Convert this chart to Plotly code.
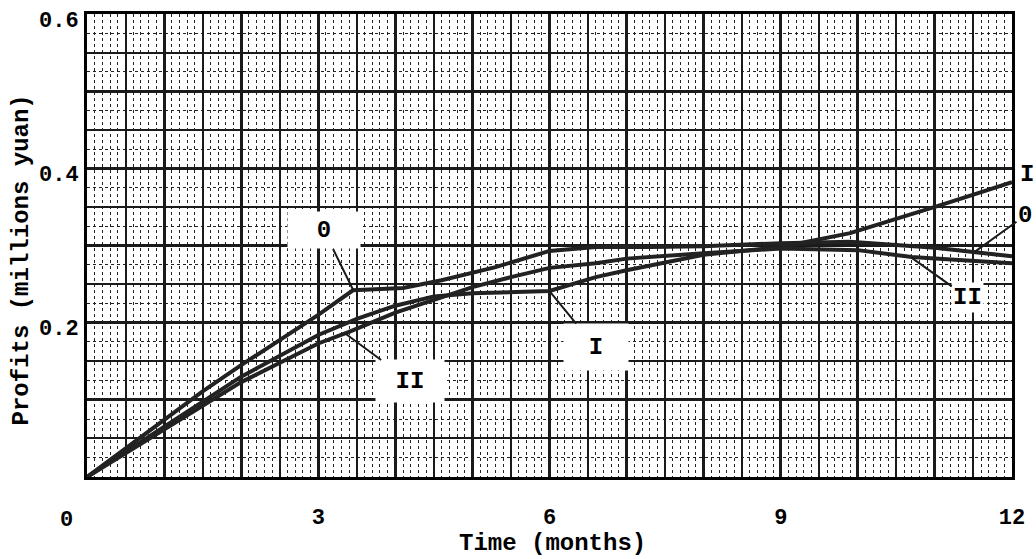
import plotly.graph_objects as go

# ---- data ----
months_O = [0, 0.5, 1, 1.5, 2, 2.5, 3, 3.45, 4.1, 4.6, 5.3, 6, 6.6, 7.3, 8, 9, 9.9, 11, 11.5, 12]
profit_O = [0, 0.037, 0.075, 0.111, 0.145, 0.178, 0.21, 0.242, 0.245, 0.255, 0.272, 0.293, 0.298, 0.298, 0.299, 0.303, 0.305, 0.297, 0.292, 0.286]

months_I = [0, 1, 2, 3, 3.5, 4, 4.5, 5, 5.5, 6, 6.6, 7, 8, 9, 9.9, 10.5, 11, 11.5, 12]
profit_I = [0, 0.065, 0.13, 0.184, 0.205, 0.222, 0.234, 0.238, 0.239, 0.241, 0.259, 0.268, 0.288, 0.298, 0.316, 0.334, 0.35, 0.366, 0.382]

months_II = [0, 1, 2, 3, 3.4, 4, 4.5, 5, 5.5, 6, 6.6, 7, 8, 9, 10, 10.7, 11, 12]
profit_II = [0, 0.062, 0.123, 0.173, 0.188, 0.213, 0.23, 0.246, 0.259, 0.271, 0.277, 0.283, 0.29, 0.296, 0.294, 0.285, 0.283, 0.277]

x_tickvals = list(range(0, 13))
x_ticktext = ["" if (m % 3 or m == 0) else str(m) for m in x_tickvals]
y_tickvals = [0, 0.1, 0.2, 0.3, 0.4, 0.5, 0.6]
y_ticktext = ["", "", "0.2", "", "0.4", "", "0.6"]

FONT = "Liberation Mono"
INK = "#1a1a1a"

fig = go.Figure()
for xs, ys, name in [(months_O, profit_O, "0"), (months_I, profit_I, "I"), (months_II, profit_II, "II")]:
    fig.add_trace(go.Scatter(x=xs, y=ys, mode="lines", name=name,
                             line=dict(color="#222", width=4), showlegend=False))
# dummy trace on the overlay axes (medium-weight grid)
fig.add_trace(go.Scatter(x=[None], y=[None], xaxis="x2", yaxis="y2", showlegend=False, hoverinfo="skip"))

tickfont = dict(family=FONT, size=22, color="black", weight="bold")
titlefont = dict(family=FONT, size=24, color="black", weight="bold")

fig.update_layout(
    width=1036, height=559,
    margin=dict(l=87, r=24, t=14, b=82),
    paper_bgcolor="white", plot_bgcolor="white",
    font=dict(family=FONT, color="black"),
    xaxis=dict(range=[0, 12], tickmode="array", tickvals=x_tickvals, ticktext=x_ticktext,
               showgrid=True, gridcolor=INK, gridwidth=2.5, automargin=False,
               minor=dict(dtick=0.1, showgrid=True, gridcolor="#222", gridwidth=1.4, griddash="dot"),
               showline=True, linecolor="black", linewidth=3, mirror=True,
               ticks="", tickfont=tickfont, ticklabelstandoff=18, zeroline=False),
    yaxis=dict(range=[0, 0.6], tickmode="array", tickvals=y_tickvals, ticktext=y_ticktext,
               showgrid=True, gridcolor=INK, gridwidth=2.5, automargin=False,
               minor=dict(dtick=0.025, showgrid=True, gridcolor="#222", gridwidth=1.3, griddash="dot"),
               showline=True, linecolor="black", linewidth=3, mirror=True,
               ticks="", tickfont=tickfont, ticklabelstandoff=1, ticklabelshift=5, zeroline=False),
    xaxis2=dict(range=[0, 12], overlaying="x", dtick=0.5, showgrid=True, gridcolor=INK, gridwidth=1.5,
                showticklabels=False, ticks="", zeroline=False),
    yaxis2=dict(range=[0, 0.6], overlaying="y", dtick=0.05, showgrid=True, gridcolor=INK, gridwidth=1.5,
                showticklabels=False, ticks="", zeroline=False),
)

# axis titles
fig.add_annotation(xref="paper", yref="paper", x=0.5, y=0, text="Time (months)", showarrow=False,
                   xanchor="center", yanchor="middle", xshift=3, yshift=-66, font=titlefont)
fig.add_annotation(xref="paper", yref="paper", x=0, y=0.5, text="Profits (millions yuan)", showarrow=False,
                   textangle=-90, xanchor="center", yanchor="middle", xshift=-66, yshift=-15, font=titlefont)

lab_font = dict(family=FONT, size=24, color="black", weight="bold")
# boxed series labels with leader lines
fig.add_annotation(x=3.45, y=0.243, text="0", showarrow=True, arrowhead=0, arrowwidth=2, arrowcolor=INK,
                   ax=-29, ay=-59, bgcolor="white", width=70, height=34, font=lab_font)
fig.add_annotation(x=6.0, y=0.241, text="I", showarrow=True, arrowhead=0, arrowwidth=2, arrowcolor=INK,
                   ax=46, ay=56, bgcolor="white", width=62, height=44, font=lab_font)
fig.add_annotation(x=3.35, y=0.186, text="II", showarrow=True, arrowhead=0, arrowwidth=2, arrowcolor=INK,
                   ax=65, ay=48, bgcolor="white", width=66, height=40, font=lab_font)
fig.add_annotation(x=11.52, y=0.292, text="0", showarrow=True, arrowhead=0, arrowwidth=2, arrowcolor=INK,
                   ax=50, ay=-36, font=lab_font)
fig.add_annotation(x=10.7, y=0.284, text="II", showarrow=True, arrowhead=0, arrowwidth=2, arrowcolor=INK,
                   ax=56, ay=40, bgcolor="white", font=lab_font)
fig.add_annotation(xref="paper", x=1, y=0.392, text="I", showarrow=False, xanchor="right", xshift=24,
                   font=lab_font)
# origin label
fig.add_annotation(x=0, y=0, text="0", showarrow=False, xshift=-21, yshift=-43, font=tickfont)

# remove the default 8px page margin so the figure fills the 1036x559 window exactly
fig.write_html("out.html", config={"displayModeBar": False},
               post_script="document.body.style.margin='0px';")
